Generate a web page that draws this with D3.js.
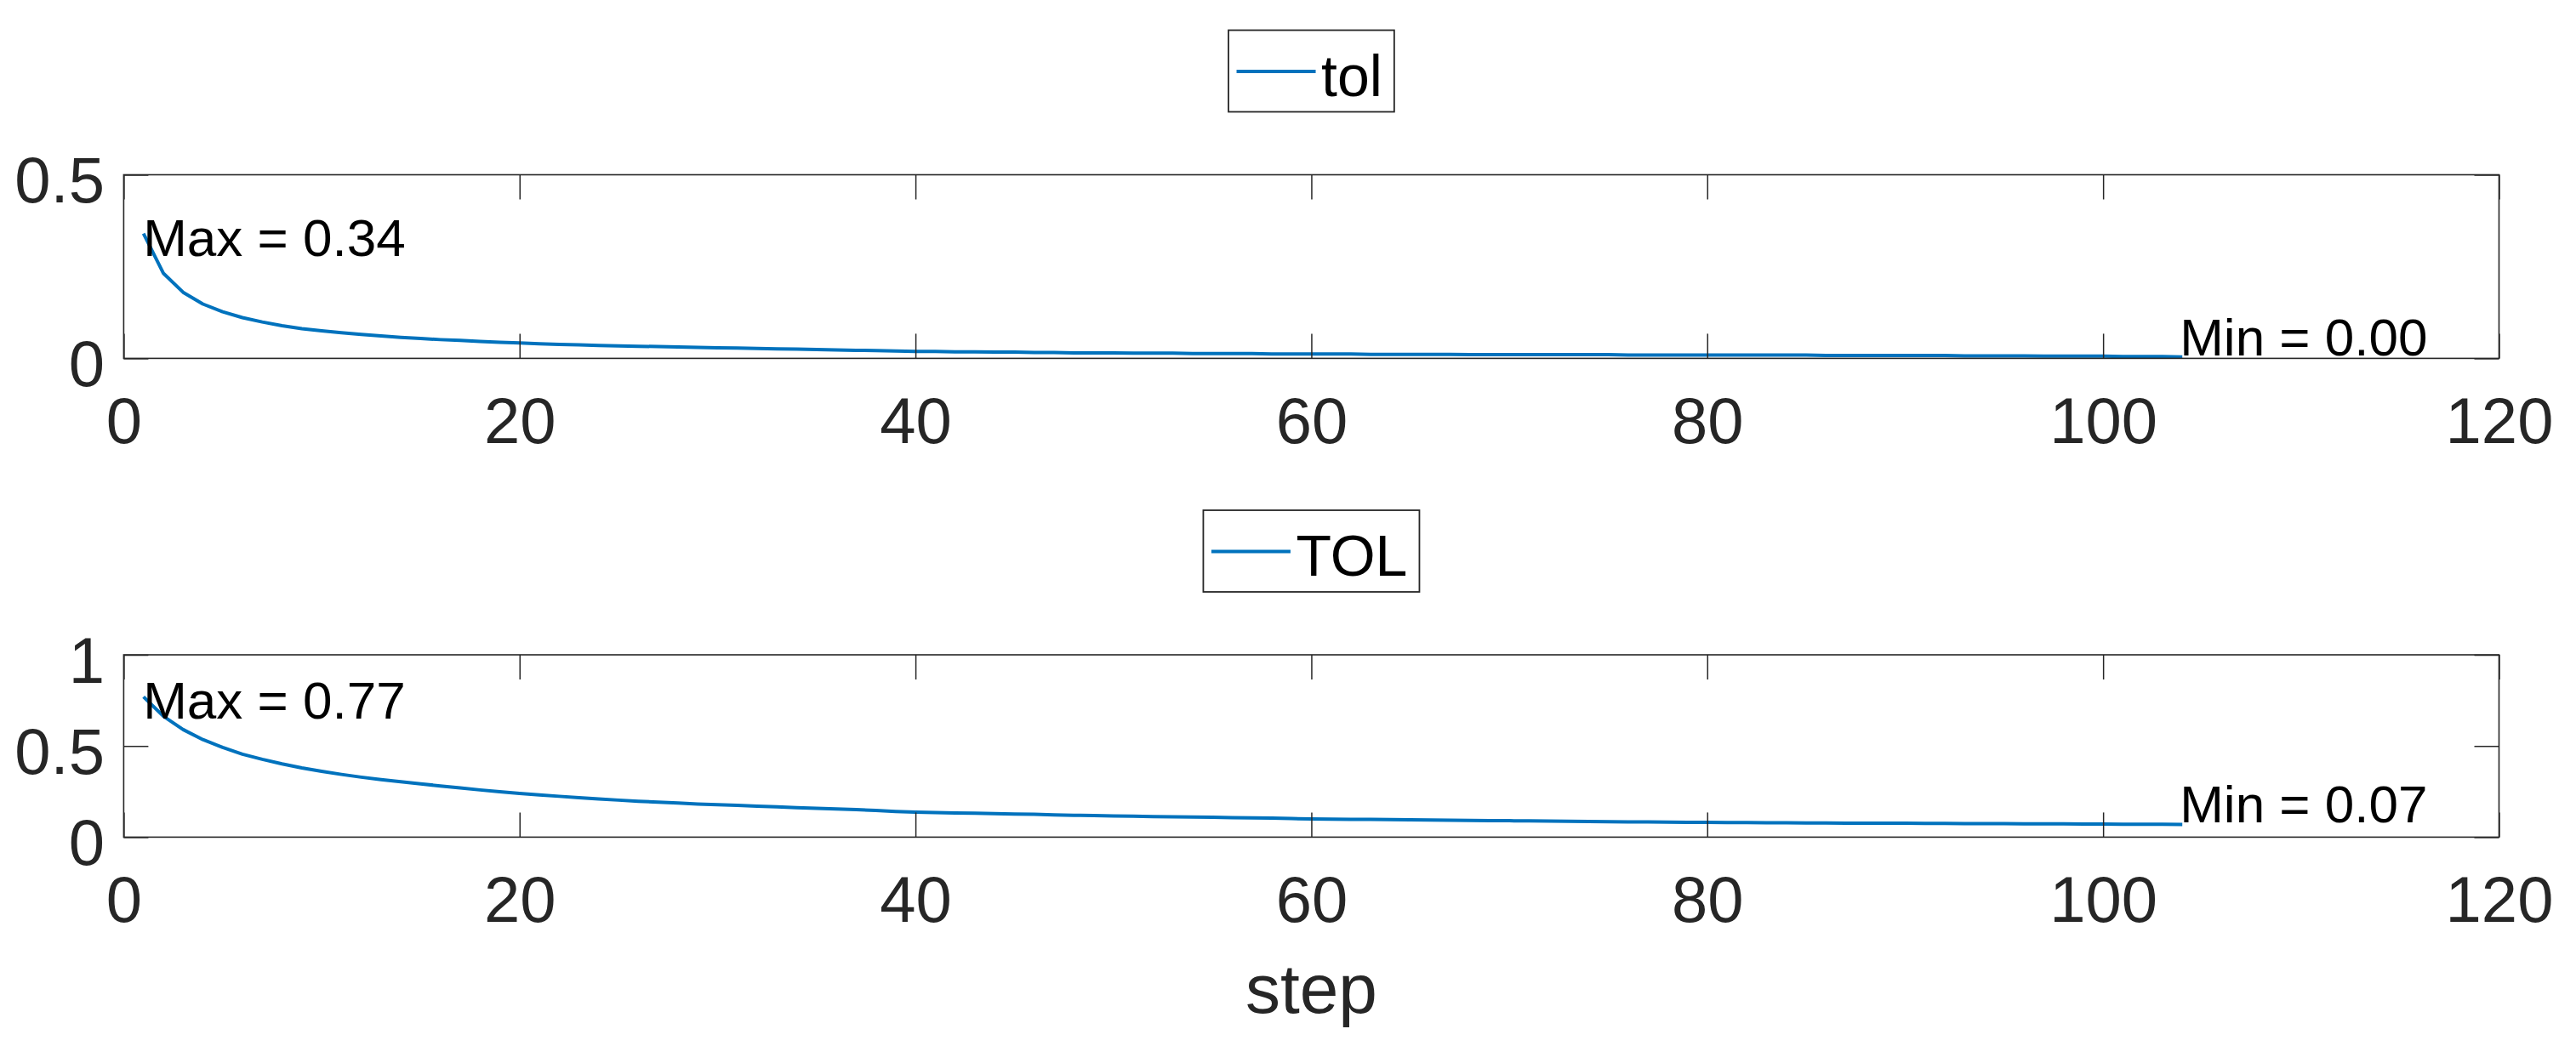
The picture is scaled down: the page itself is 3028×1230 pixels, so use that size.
<!DOCTYPE html>
<html>
<head>
<meta charset="utf-8">
<script src="https://cdn.jsdelivr.net/npm/d3@7"></script>
<style>
  html, body { margin: 0; padding: 0; background: #fff; }
  svg { display: block; font-family: "Liberation Sans", Arial, sans-serif; }
</style>
</head>
<body>
<svg id="chart" width="3028" height="1230"></svg>
<script>
// ---- data ----
const steps = d3.range(1, 105);   // step 1..104

const tolValues = [
  0.340, 0.232, 0.180, 0.148, 0.127, 0.111, 0.099, 0.089, 0.081, 0.075,
  0.070, 0.065, 0.061, 0.057, 0.054, 0.051, 0.049, 0.046, 0.044, 0.042,
  0.040, 0.038, 0.037, 0.035, 0.034, 0.033, 0.032, 0.031, 0.030, 0.029,
  0.028, 0.027, 0.026, 0.025, 0.024, 0.023, 0.022, 0.021, 0.020, 0.019,
  0.019, 0.018, 0.018, 0.017, 0.017, 0.016, 0.016, 0.015, 0.015, 0.015,
  0.014, 0.014, 0.014, 0.013, 0.013, 0.013, 0.013, 0.012, 0.012, 0.012,
  0.012, 0.012, 0.011, 0.011, 0.011, 0.011, 0.011, 0.010, 0.010, 0.010,
  0.010, 0.010, 0.010, 0.010, 0.010, 0.009, 0.009, 0.009, 0.009, 0.009,
  0.009, 0.009, 0.009, 0.009, 0.009, 0.008, 0.008, 0.008, 0.008, 0.008,
  0.008, 0.008, 0.007, 0.007, 0.007, 0.007, 0.006, 0.006, 0.006, 0.006,
  0.005, 0.005, 0.005, 0.004
];

const TOLValues = [
  0.770, 0.664, 0.590, 0.535, 0.492, 0.455, 0.427, 0.402, 0.380, 0.361,
  0.344, 0.329, 0.316, 0.304, 0.292, 0.281, 0.270, 0.259, 0.249, 0.240,
  0.232, 0.224, 0.216, 0.209, 0.203, 0.197, 0.192, 0.187, 0.182, 0.178,
  0.174, 0.170, 0.166, 0.162, 0.158, 0.155, 0.151, 0.146, 0.141, 0.137,
  0.135, 0.133, 0.131, 0.129, 0.127, 0.125, 0.122, 0.120, 0.118, 0.116,
  0.115, 0.113, 0.112, 0.110, 0.109, 0.107, 0.106, 0.104, 0.102, 0.100,
  0.099, 0.098, 0.097, 0.096, 0.095, 0.094, 0.093, 0.092, 0.091, 0.090,
  0.089, 0.088, 0.087, 0.086, 0.085, 0.084, 0.083, 0.082, 0.081, 0.081,
  0.080, 0.080, 0.079, 0.079, 0.078, 0.078, 0.077, 0.077, 0.076, 0.076,
  0.075, 0.075, 0.074, 0.074, 0.074, 0.073, 0.073, 0.073, 0.072, 0.072,
  0.071, 0.071, 0.071, 0.070
];

const xTicks = [0, 20, 40, 60, 80, 100, 120];
const yTicksTop = [0, 0.5];
const yTicksBottom = [0, 0.5, 1];
const xLabel = "step";

// ---- layout ----
const W = 3028, H = 1230;
const left = 145.4, right = 2937.5;
const panels = [
  { name: "tol", values: tolValues, top: 205.5, bottom: 421.4, yDomain: [0, 0.5], yTicks: yTicksTop },
  { name: "TOL", values: TOLValues, top: 770,   bottom: 984.4, yDomain: [0, 1],   yTicks: yTicksBottom }
];

const AX = "#262626";
const LINE = "#0072BD";
const tickLen = 29;
const tickFont = 76;

const svg = d3.select("#chart");
const x = d3.scaleLinear().domain([0, 120]).range([left, right]);

panels.forEach((p, pi) => {
  const y = d3.scaleLinear().domain(p.yDomain).range([p.bottom, p.top]);
  const g = svg.append("g");

  // data line (clipped to the axes)
  const clipId = "clip" + pi;
  svg.append("clipPath").attr("id", clipId)
    .append("rect").attr("x", left).attr("y", p.top).attr("width", right - left).attr("height", p.bottom - p.top);

  const line = d3.line().x((d, i) => x(steps[i])).y(d => y(d));
  g.append("path")
    .datum(p.values)
    .attr("clip-path", `url(#${clipId})`)
    .attr("fill", "none")
    .attr("stroke", LINE)
    .attr("stroke-width", 4)
    .attr("stroke-linejoin", "round")
    .attr("d", line);

  // axes with inward ticks (bottom, top, left, right)
  const axB = d3.axisBottom(x).tickValues(xTicks).tickSizeInner(-tickLen).tickSizeOuter(0).tickFormat(d3.format("d"));
  const axT = d3.axisTop(x).tickValues(xTicks).tickSizeInner(-tickLen).tickSizeOuter(0).tickFormat("");
  const axL = d3.axisLeft(y).tickValues(p.yTicks).tickSizeInner(-tickLen).tickSizeOuter(0).tickFormat(d => d3.format("")(d));
  const axR = d3.axisRight(y).tickValues(p.yTicks).tickSizeInner(-tickLen).tickSizeOuter(0).tickFormat("");

  const gB = g.append("g").attr("transform", `translate(0,${p.bottom})`).call(axB);
  const gT = g.append("g").attr("transform", `translate(0,${p.top})`).call(axT);
  const gL = g.append("g").attr("transform", `translate(${left},0)`).call(axL);
  const gR = g.append("g").attr("transform", `translate(${right},0)`).call(axR);

  [gB, gT, gL, gR].forEach(a => {
    a.select(".domain").remove();
    a.selectAll(".tick line").attr("stroke", AX).attr("stroke-width", 1.5);
  });

  gB.selectAll(".tick text")
    .attr("fill", AX).attr("font-size", tickFont).attr("font-family", "'Liberation Sans', Arial, sans-serif")
    .attr("y", 100).attr("dy", null);
  gL.selectAll(".tick text")
    .attr("fill", AX).attr("font-size", tickFont).attr("font-family", "'Liberation Sans', Arial, sans-serif")
    .attr("x", 123 - left).attr("dy", 32).attr("text-anchor", "end");

  // box
  g.append("rect")
    .attr("x", left).attr("y", p.top)
    .attr("width", right - left).attr("height", p.bottom - p.top)
    .attr("fill", "none").attr("stroke", AX).attr("stroke-width", 1.6);

  // max / min annotations
  const maxI = d3.maxIndex(p.values), minI = d3.minIndex(p.values);
  const f2 = d3.format(".2f");
  g.append("text")
    .attr("x", x(steps[maxI]) - 0.5).attr("y", y(p.values[maxI]) + 26)
    .attr("font-size", 62).attr("fill", "#000")
    .text("Max = " + f2(p.values[maxI]));
  g.append("text")
    .attr("x", x(steps[minI]) - 3).attr("y", y(p.values[minI]) - 2)
    .attr("font-size", 62).attr("fill", "#000")
    .text("Min = " + f2(p.values[minI]));

  // legend
  const cx = (left + right) / 2;
  const lg = svg.append("g");
  const legTop = p.top - 170;
  const legH = 96;
  const txt = lg.append("text")
    .attr("font-size", 68).attr("fill", "#000")
    .text(p.name);
  const tw = txt.node().getComputedTextLength();
  const legW = 111 + tw + 12;
  const lx = cx - legW / 2;
  lg.insert("rect", "text")
    .attr("x", lx).attr("y", legTop).attr("width", legW).attr("height", legH)
    .attr("fill", "#fff").attr("stroke", AX).attr("stroke-width", 1.8);
  lg.append("line")
    .attr("x1", lx + 9.5).attr("x2", lx + 102.5)
    .attr("y1", legTop + 48.5).attr("y2", legTop + 48.5)
    .attr("stroke", LINE).attr("stroke-width", 4);
  txt.attr("x", lx + 109).attr("y", legTop + 77);
});

// x label
svg.append("text")
  .attr("x", (left + right) / 2).attr("y", 1191)
  .attr("text-anchor", "middle")
  .attr("font-size", 82).attr("fill", AX)
  .text(xLabel);
</script>
</body>
</html>
